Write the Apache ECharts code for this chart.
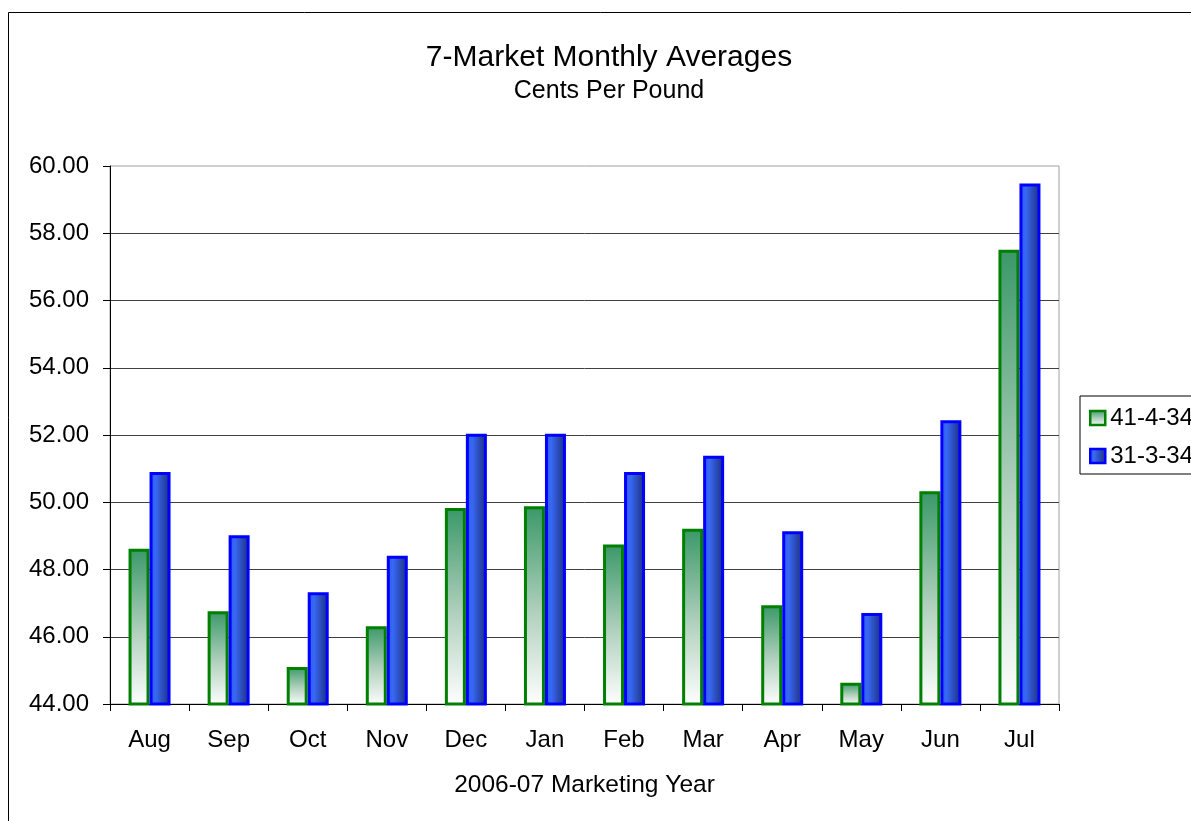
<!DOCTYPE html>
<html>
<head>
<meta charset="utf-8">
<style>
html,body{margin:0;padding:0;background:#fff;}
#chart{width:1191px;height:821px;}
</style>
<script src="https://cdn.jsdelivr.net/npm/echarts@6/dist/echarts.min.js"></script>
</head>
<body>
<div id="chart"></div>
<script>
const categories = ['Aug','Sep','Oct','Nov','Dec','Jan','Feb','Mar','Apr','May','Jun','Jul'];
const series1Name = '41-4-34';
const series2Name = '31-3-34';
const series1Values = [48.62, 46.76, 45.10, 46.31, 49.83, 49.88, 48.74, 49.21, 46.94, 44.63, 50.33, 57.51];
const series2Values = [50.90, 49.02, 47.32, 48.41, 52.04, 52.04, 50.90, 51.38, 49.14, 46.71, 52.44, 59.48];
const yMin = 44, yMax = 60, yStep = 2;

const FONT = "'Liberation Sans', Arial, sans-serif";
const chart = echarts.init(document.getElementById('chart'), null, {renderer:'canvas'});

const greenFill = new echarts.graphic.LinearGradient(0,0,0,1,[
  {offset:0,color:'#3a9868'},
  {offset:0.55,color:'#b4d2c0'},
  {offset:1,color:'#ffffff'}
]);
const blueFill = new echarts.graphic.LinearGradient(0,0,1,0,[
  {offset:0,color:'#2e5ee6'},
  {offset:0.3,color:'#3868f4'},
  {offset:1,color:'#1b2c78'}
]);

chart.setOption({
  animation:false,
  backgroundColor:'#ffffff',
  title:{
    text:'7-Market Monthly Averages',
    subtext:'Cents Per Pound',
    left:609,
    top:43,
    textAlign:'center',
    padding:0,
    itemGap:6,
    textStyle:{fontFamily:FONT,fontSize:30,fontWeight:'normal',color:'#000'},
    subtextStyle:{fontFamily:FONT,fontSize:25,color:'#000'}
  },
  graphic:[{
    type:'rect',
    shape:{x:8.5,y:12.5,width:1400,height:900},
    style:{fill:'none',stroke:'#000',lineWidth:1},
    silent:true
  }],
  legend:{
    orient:'vertical',
    left:1080,
    top:396,
    padding:[10,30,6,9],
    itemGap:14,
    itemWidth:15,
    itemHeight:14,
    borderColor:'#000',
    borderWidth:1,
    icon:'rect',
    textStyle:{fontFamily:FONT,fontSize:24,color:'#000'},
    data:[
      {name:series1Name,itemStyle:{borderWidth:2.5,borderColor:'#008000'}},
      {name:series2Name,itemStyle:{borderWidth:2.5,borderColor:'#0000ff'}}
    ]
  },
  grid:{left:110,right:132,top:166,bottom:117,show:true,borderColor:'#a0a0a0',borderWidth:1},
  xAxis:{
    type:'category',
    data:categories,
    boundaryGap:true,
    name:'2006-07 Marketing Year',
    nameLocation:'middle',
    nameGap:69,
    nameTextStyle:{fontFamily:FONT,fontSize:24.5,color:'#000'},
    axisLine:{show:true,lineStyle:{color:'#000',width:1}},
    axisTick:{show:true,length:7,alignWithLabel:false,lineStyle:{color:'#000'}},
    axisLabel:{margin:24,fontFamily:FONT,fontSize:24,color:'#000'},
    splitLine:{show:false}
  },
  yAxis:{
    type:'value',
    min:yMin,max:yMax,interval:yStep,
    axisLine:{show:true,lineStyle:{color:'#000',width:1}},
    axisTick:{show:true,length:7,lineStyle:{color:'#000'}},
    axisLabel:{margin:21,fontFamily:FONT,fontSize:24,color:'#000',formatter:v=>v.toFixed(2)},
    splitLine:{show:true,showMinLine:false,showMaxLine:false,lineStyle:{color:'#404040',width:1}}
  },
  series:[
    {
      name:series1Name,type:'bar',data:series1Values,
      barWidth:21,barGap:'0%',
      itemStyle:{color:greenFill,borderColor:'#008000',borderWidth:3}
    },
    {
      name:series2Name,type:'bar',data:series2Values,
      barWidth:21,barGap:'0%',
      itemStyle:{color:blueFill,borderColor:'#0000ff',borderWidth:3}
    }
  ]
});
</script>
</body>
</html>
